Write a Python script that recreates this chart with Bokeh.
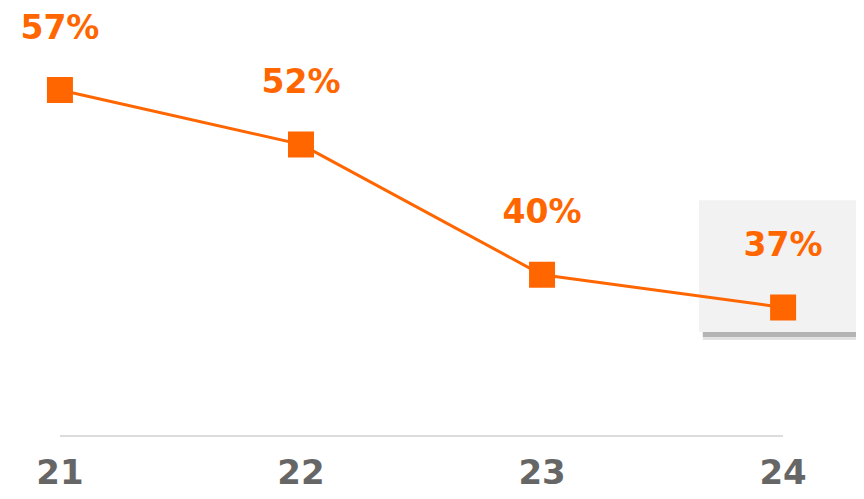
from bokeh.plotting import figure
from bokeh.models import Range1d, FixedTicker, ColumnDataSource
from bokeh.core.properties import value
from bokeh.embed import file_html
from bokeh.resources import INLINE

# ---- data ----
years = [21, 22, 23, 24]
shares = [57, 52, 40, 37]
labels = ["57%", "52%", "40%", "37%"]

ORANGE = "#ff6600"

src = ColumnDataSource(dict(x=years, y=shares, label=labels))

p = figure(width=856, height=491, output_backend="svg", toolbar_location=None,
           x_range=Range1d(20.7534, 24.3045), y_range=Range1d(25.03, 65.24),
           min_border_left=0, min_border_right=0, min_border_top=0, min_border_bottom=54,
           background_fill_color="white", border_fill_color="white")
p.outline_line_color = None
p.grid.visible = False
p.yaxis.visible = False

# highlight box for the last period (with soft shadow)
hx0 = years[-1] - 0.349
hx1 = 24.3045
p.quad(left=[hx0 + 0.016], right=[hx1], top=[shares[-1] - 2.27], bottom=[shares[-1] - 3.0],
       fill_color="#e2e2e2", line_color=None, level="underlay")
p.quad(left=[hx0 + 0.016], right=[hx1], top=[shares[-1] - 2.27], bottom=[shares[-1] - 2.72],
       fill_color="#b4b4b4", line_color=None, level="underlay")
p.quad(left=[hx0], right=[hx1], top=[shares[-1] + 9.87], bottom=[shares[-1] - 2.27],
       fill_color="#f2f2f2", line_color=None, level="underlay")

# baseline
p.segment(x0=[years[0]], x1=[years[-1]], y0=[25.16], y1=[25.16],
          line_color="#dcdcdc", line_width=2)

p.line("x", "y", source=src, line_color=ORANGE, line_width=3)
p.scatter("x", "y", source=src, marker="square", size=26, fill_color=ORANGE, line_color=None)
p.text("x", "y", text="label", source=src, text_align="center", text_baseline="alphabetic",
       y_offset=-63, text_color=ORANGE, text_font=value("DejaVu Sans"),
       text_font_style="bold", text_font_size="33px")

ax = p.xaxis[0]
ax.ticker = FixedTicker(ticks=years)
ax.axis_line_color = None
ax.major_tick_line_color = None
ax.minor_tick_line_color = None
ax.major_tick_out = 0
ax.major_tick_in = 0
ax.major_label_standoff = 21
ax.major_label_text_line_height = 0.4
ax.major_label_text_font = "DejaVu Sans"
ax.major_label_text_font_style = "bold"
ax.major_label_text_font_size = "34px"
ax.major_label_text_color = "#666666"

open("out.html", "w").write(file_html(p, INLINE))
